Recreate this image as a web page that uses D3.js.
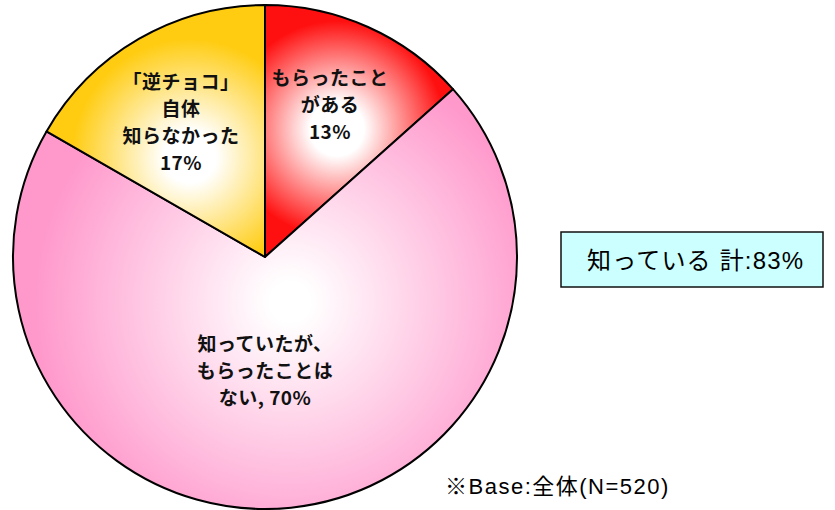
<!DOCTYPE html>
<html><head><meta charset="utf-8">
<script src="https://cdn.jsdelivr.net/npm/d3@7"></script>
<style>body{margin:0;background:#fff}svg{display:block}</style>
</head><body>
<svg id="c" width="835" height="510"></svg>
<script>
const categories = ["もらったことがある", "知っていたが、もらったことはない", "「逆チョコ」自体知らなかった"];
const values = [13.4, 69.9, 16.7];
const labelLines = [
  ["もらったこと", "がある", "13%"],
  ["知っていたが、", "もらったことは", "ない, 70%"],
  ["「逆チョコ」", "自体", "知らなかった", "17%"]
];
const edgeColors = ["#ff1010", "#ff99cc", "#ffcc11"];
const summaryText = "知っている 計:83%";
const baseText = "※Base:全体(N=520)";

const svg = d3.select("#c");
const cx = 265, cy = 257, r = 252;
const pie = d3.pie().sort(null).value(d => d)(values);
const arc = d3.arc().innerRadius(0).outerRadius(r);
const defs = svg.append("defs");
const g = svg.append("g").attr("transform", `translate(${cx},${cy})`);

// gradient centres (relative to pie centre) and radii
const gradC = [[72, -128], [25, 45], [-75, -100]];
const gradR = [108, 255, 118];
const whiteStop = ["25%", "8%", "22%"];
const labelPos = [[65, -172], [0, 94], [-84, -168]];

pie.forEach((p, i) => {
  const id = "gr" + i;
  const gr = defs.append("radialGradient").attr("id", id)
    .attr("gradientUnits", "userSpaceOnUse")
    .attr("cx", gradC[i][0]).attr("cy", gradC[i][1]).attr("r", gradR[i]);
  gr.append("stop").attr("offset", "0%").attr("stop-color", "#ffffff");
  gr.append("stop").attr("offset", whiteStop[i]).attr("stop-color", "#ffffff");
  gr.append("stop").attr("offset", "100%").attr("stop-color", edgeColors[i]);
  g.append("path").attr("d", arc(p)).attr("fill", `url(#${id})`)
    .attr("stroke", "#000").attr("stroke-width", 2).attr("stroke-linejoin", "round");
});

labelLines.forEach((lines, i) => {
  const [lx, ly] = labelPos[i];
  const t = g.append("text").attr("text-anchor", "middle")
    .attr("font-family", "'Noto Sans CJK JP', sans-serif").attr("font-weight", "bold")
    .attr("font-size", 19).attr("letter-spacing", 0.5).attr("fill", "#111");
  lines.forEach((s, k) => {
    t.append("tspan").attr("x", lx).attr("y", ly + k * 27).text(s);
  });
});

// summary box
svg.append("rect").attr("x", 561).attr("y", 232).attr("width", 262).attr("height", 55)
  .attr("fill", "#ccffff").attr("stroke", "#111").attr("stroke-width", 1.5);
svg.append("text").attr("x", 587).attr("y", 269)
  .attr("font-family", "'Liberation Sans', 'Noto Sans CJK JP', sans-serif").attr("font-size", 24)
  .attr("letter-spacing", 1.2).attr("fill", "#000")
  .text(summaryText);

svg.append("text").attr("x", 445).attr("y", 494)
  .attr("font-family", "'Liberation Sans', 'Noto Sans CJK JP', sans-serif").attr("font-size", 22)
  .attr("letter-spacing", 1.5).attr("fill", "#000")
  .text(baseText);
</script>
</body></html>
